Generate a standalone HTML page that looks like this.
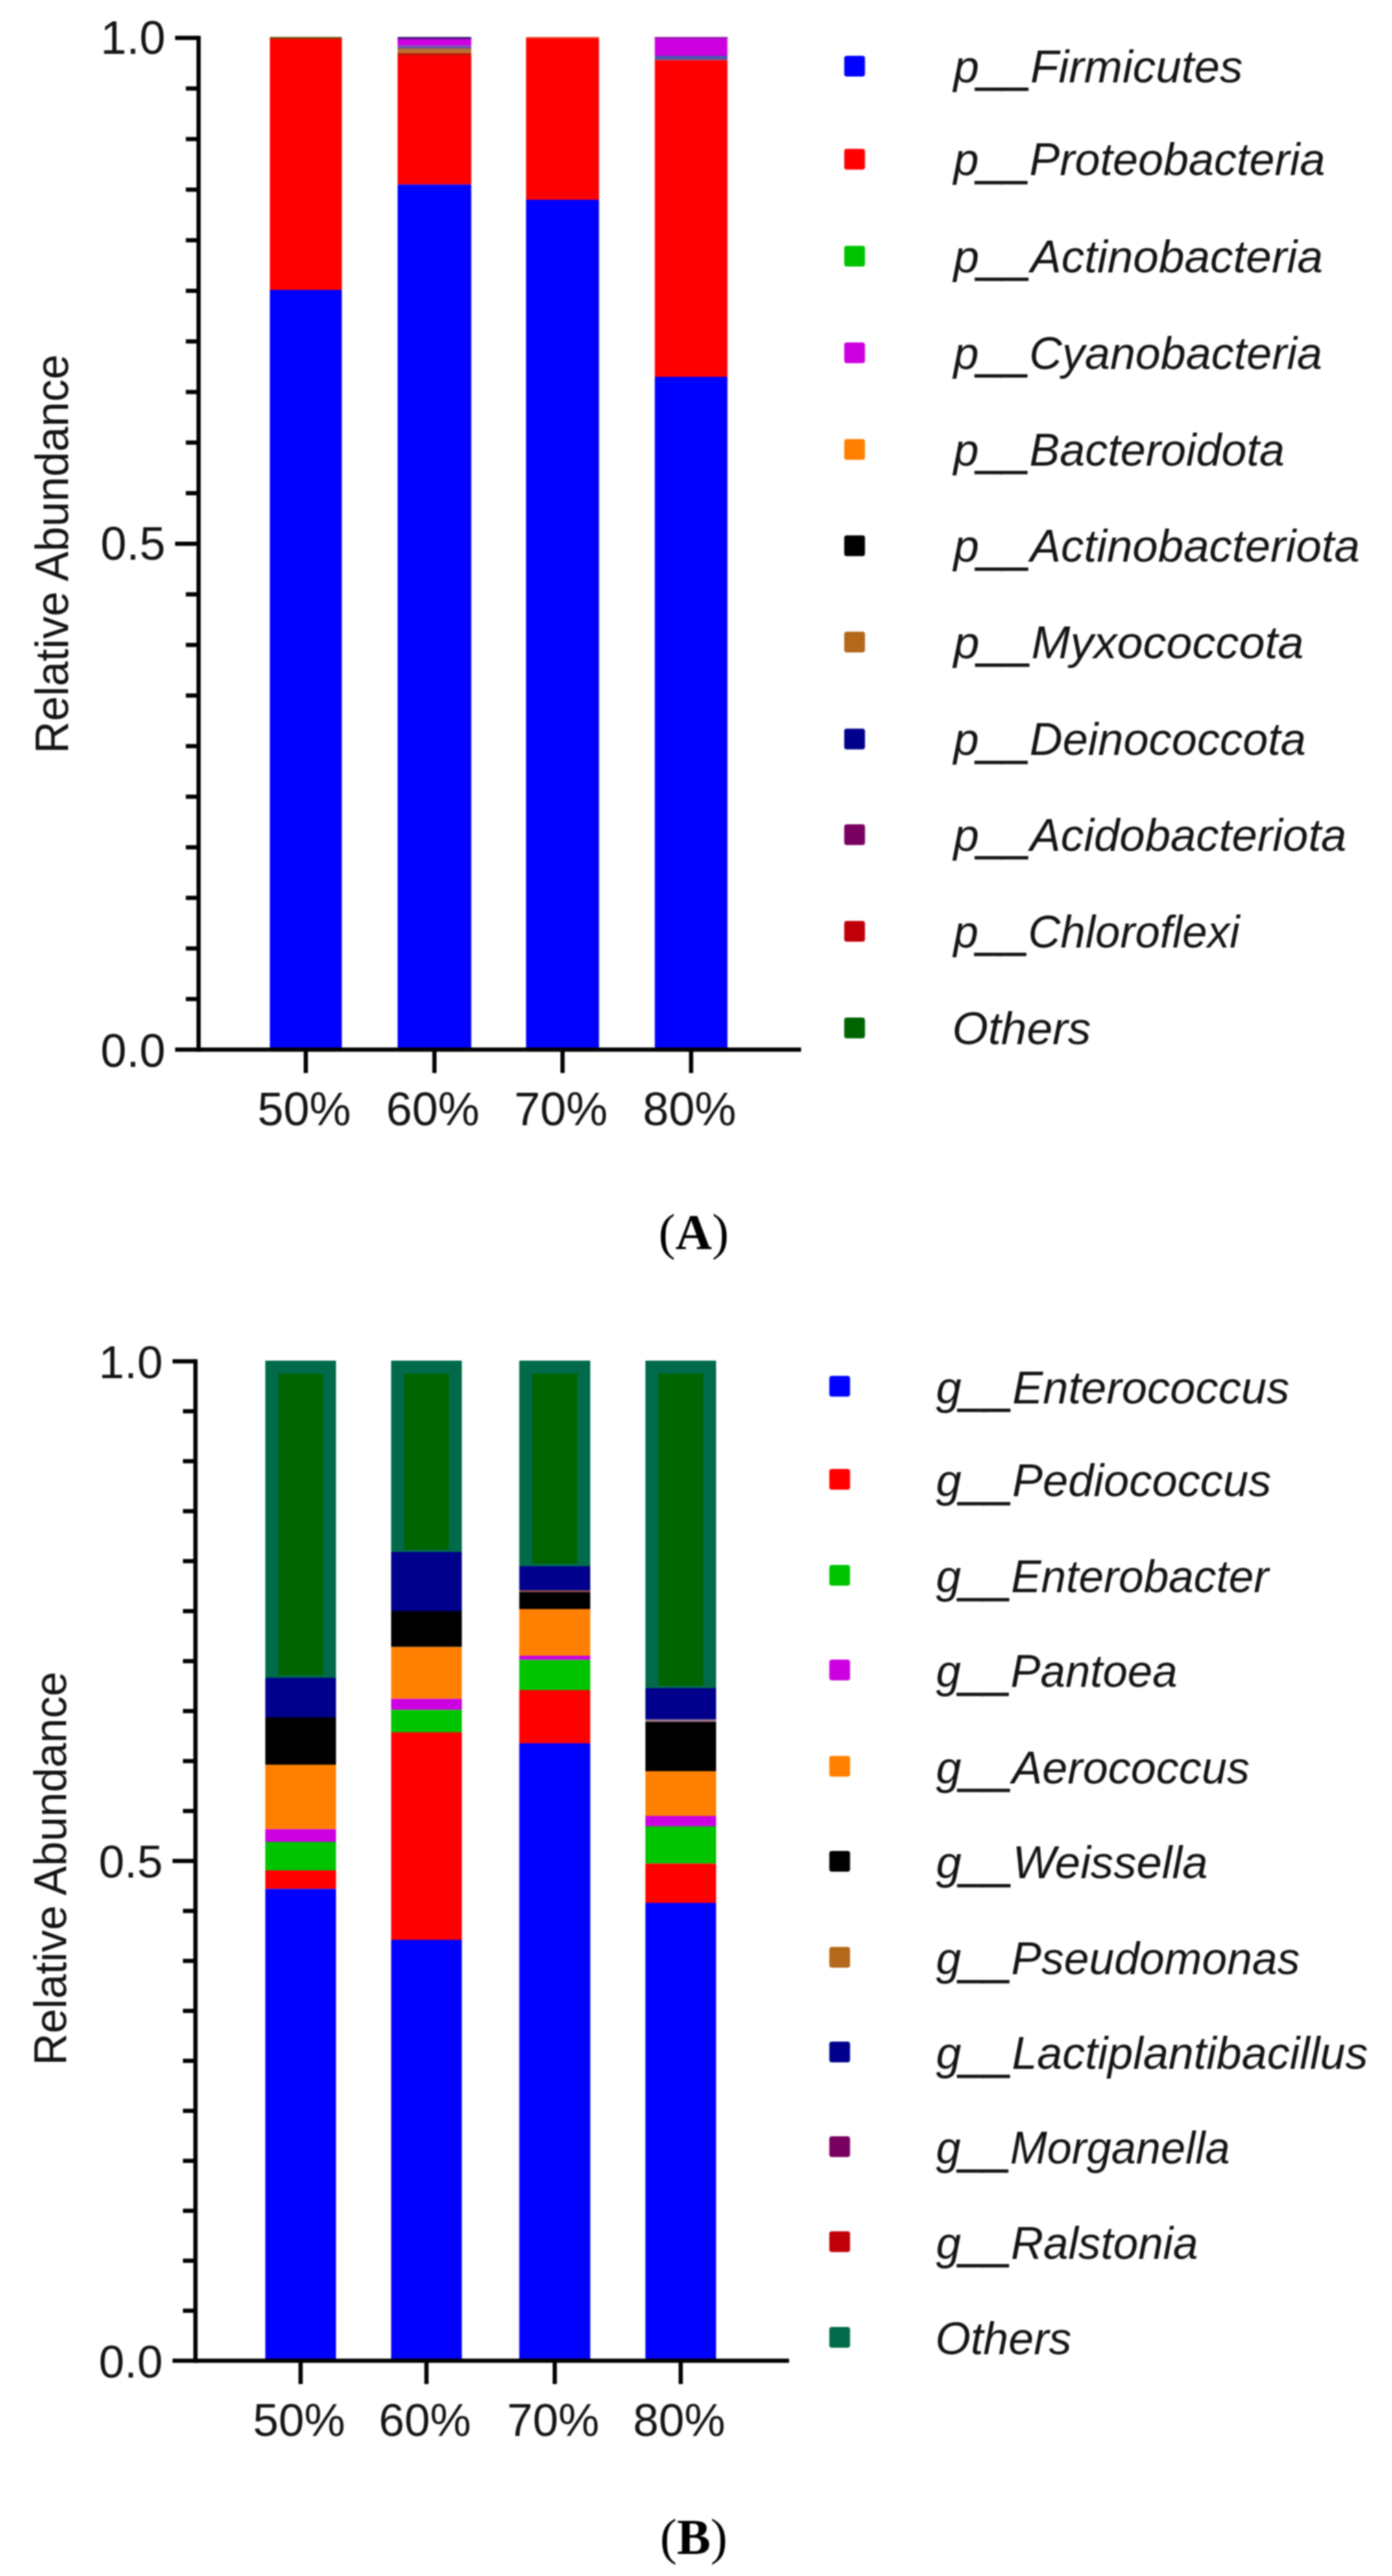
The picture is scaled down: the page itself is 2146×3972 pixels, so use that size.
<!DOCTYPE html>
<html lang="en"><head><meta charset="utf-8"><title>Relative abundance</title>
<style>html,body{margin:0;padding:0;background:#fff}body{width:2146px;height:3972px;overflow:hidden}svg{display:block;filter:blur(1px)}text{font-family:"Liberation Sans",Arial,Helvetica,sans-serif;fill:#141414}.lg{font-style:italic;font-size:70.5px}.tk{font-size:72px}.cap{font-family:"Liberation Serif","Times New Roman",serif;font-size:78px;fill:#000}</style></head><body>
<svg width="2146" height="3972" viewBox="0 0 2146 3972">
<rect width="2146" height="3972" fill="#fff"/>
<rect x="416.0" y="57.0" width="111.0" height="4.0" fill="#7A4A00"/>
<rect x="416.0" y="60.0" width="111.0" height="387.0" fill="#FF0000"/>
<rect x="416.0" y="447.0" width="111.0" height="1171.5" fill="#0000FF"/>
<rect x="613.0" y="57.0" width="113.5" height="4.0" fill="#3A1A7A"/>
<rect x="613.0" y="60.0" width="113.5" height="10.5" fill="#CC00E0"/>
<rect x="613.0" y="70.5" width="113.5" height="4.5" fill="#6A50A8"/>
<rect x="613.0" y="75.0" width="113.5" height="6.5" fill="#B8702C"/>
<rect x="613.0" y="81.5" width="113.5" height="4.5" fill="#C01800"/>
<rect x="613.0" y="86.0" width="113.5" height="198.5" fill="#FF0000"/>
<rect x="613.0" y="284.5" width="113.5" height="1334.0" fill="#0000FF"/>
<rect x="811.0" y="57.0" width="112.5" height="3.0" fill="#E05030"/>
<rect x="811.0" y="59.5" width="112.5" height="248.5" fill="#FF0000"/>
<rect x="811.0" y="308.0" width="112.5" height="1310.5" fill="#0000FF"/>
<rect x="1009.5" y="57.0" width="112.0" height="3.0" fill="#8A20A0"/>
<rect x="1009.5" y="59.5" width="112.0" height="26.5" fill="#CC00E0"/>
<rect x="1009.5" y="86.0" width="112.0" height="6.5" fill="#4A58B0"/>
<rect x="1009.5" y="92.5" width="112.0" height="488.5" fill="#FF0000"/>
<rect x="1009.5" y="581.0" width="112.0" height="1037.5" fill="#0000FF"/>
<g fill="#000">
<rect x="302.9" y="55.2" width="6.5" height="1566.5"/>
<rect x="270.0" y="1615.2" width="965.0" height="6.5"/>
<rect x="270.0" y="55.2" width="36.2" height="6.5"/>
<rect x="286.5" y="133.2" width="19.7" height="6.5"/>
<rect x="286.5" y="211.2" width="19.7" height="6.5"/>
<rect x="286.5" y="289.2" width="19.7" height="6.5"/>
<rect x="286.5" y="367.2" width="19.7" height="6.5"/>
<rect x="286.5" y="445.2" width="19.7" height="6.5"/>
<rect x="286.5" y="523.2" width="19.7" height="6.5"/>
<rect x="286.5" y="601.2" width="19.7" height="6.5"/>
<rect x="286.5" y="679.2" width="19.7" height="6.5"/>
<rect x="286.5" y="757.2" width="19.7" height="6.5"/>
<rect x="270.0" y="835.2" width="36.2" height="6.5"/>
<rect x="286.5" y="913.2" width="19.7" height="6.5"/>
<rect x="286.5" y="991.2" width="19.7" height="6.5"/>
<rect x="286.5" y="1069.2" width="19.7" height="6.5"/>
<rect x="286.5" y="1147.2" width="19.7" height="6.5"/>
<rect x="286.5" y="1225.2" width="19.7" height="6.5"/>
<rect x="286.5" y="1303.2" width="19.7" height="6.5"/>
<rect x="286.5" y="1381.2" width="19.7" height="6.5"/>
<rect x="286.5" y="1459.2" width="19.7" height="6.5"/>
<rect x="286.5" y="1537.2" width="19.7" height="6.5"/>
</g>
<rect x="468.2" y="1620.5" width="6.5" height="34" fill="#000"/>
<rect x="666.5" y="1620.5" width="6.5" height="34" fill="#000"/>
<rect x="864.0" y="1620.5" width="6.5" height="34" fill="#000"/>
<rect x="1062.2" y="1620.5" width="6.5" height="34" fill="#000"/>
<text class="tk" x="469.0" y="1735" text-anchor="middle">50%</text>
<text class="tk" x="667.2" y="1735" text-anchor="middle">60%</text>
<text class="tk" x="864.8" y="1735" text-anchor="middle">70%</text>
<text class="tk" x="1063.0" y="1735" text-anchor="middle">80%</text>
<text class="tk" x="255" y="82.5" text-anchor="end">1.0</text>
<text class="tk" x="255" y="863" text-anchor="end">0.5</text>
<text class="tk" x="255" y="1644.5" text-anchor="end">0.0</text>
<text class="tk" transform="translate(104.5,1162) rotate(-90)" textLength="615.5" lengthAdjust="spacingAndGlyphs">Relative Abundance</text>
<rect x="1301.5" y="86.0" width="32" height="32" rx="4" fill="#0000FF"/>
<text class="lg" x="1470.0" y="126.5" textLength="446.0" lengthAdjust="spacingAndGlyphs">p<tspan dy="3.5" stroke="#141414" stroke-width="2.6">__</tspan><tspan dy="-3.5">Firmicutes</tspan></text>
<rect x="1301.5" y="229.5" width="32" height="32" rx="4" fill="#FF0000"/>
<text class="lg" x="1470.0" y="270.0" textLength="573.0" lengthAdjust="spacingAndGlyphs">p<tspan dy="3.5" stroke="#141414" stroke-width="2.6">__</tspan><tspan dy="-3.5">Proteobacteria</tspan></text>
<rect x="1301.5" y="379.0" width="32" height="32" rx="4" fill="#00C400"/>
<text class="lg" x="1470.0" y="419.5" textLength="569.5" lengthAdjust="spacingAndGlyphs">p<tspan dy="3.5" stroke="#141414" stroke-width="2.6">__</tspan><tspan dy="-3.5">Actinobacteria</tspan></text>
<rect x="1301.5" y="528.0" width="32" height="32" rx="4" fill="#CC00E0"/>
<text class="lg" x="1470.0" y="568.5" textLength="568.5" lengthAdjust="spacingAndGlyphs">p<tspan dy="3.5" stroke="#141414" stroke-width="2.6">__</tspan><tspan dy="-3.5">Cyanobacteria</tspan></text>
<rect x="1301.5" y="677.0" width="32" height="32" rx="4" fill="#FF8000"/>
<text class="lg" x="1470.0" y="717.5" textLength="510.5" lengthAdjust="spacingAndGlyphs">p<tspan dy="3.5" stroke="#141414" stroke-width="2.6">__</tspan><tspan dy="-3.5">Bacteroidota</tspan></text>
<rect x="1301.5" y="825.5" width="32" height="32" rx="4" fill="#000000"/>
<text class="lg" x="1470.0" y="866.0" textLength="626.5" lengthAdjust="spacingAndGlyphs">p<tspan dy="3.5" stroke="#141414" stroke-width="2.6">__</tspan><tspan dy="-3.5">Actinobacteriota</tspan></text>
<rect x="1301.5" y="974.0" width="32" height="32" rx="4" fill="#B4681A"/>
<text class="lg" x="1470.0" y="1014.5" textLength="540.0" lengthAdjust="spacingAndGlyphs">p<tspan dy="3.5" stroke="#141414" stroke-width="2.6">__</tspan><tspan dy="-3.5">Myxococcota</tspan></text>
<rect x="1301.5" y="1123.5" width="32" height="32" rx="4" fill="#00008C"/>
<text class="lg" x="1470.0" y="1164.0" textLength="543.5" lengthAdjust="spacingAndGlyphs">p<tspan dy="3.5" stroke="#141414" stroke-width="2.6">__</tspan><tspan dy="-3.5">Deinococcota</tspan></text>
<rect x="1301.5" y="1271.0" width="32" height="32" rx="4" fill="#780060"/>
<text class="lg" x="1470.0" y="1311.5" textLength="606.0" lengthAdjust="spacingAndGlyphs">p<tspan dy="3.5" stroke="#141414" stroke-width="2.6">__</tspan><tspan dy="-3.5">Acidobacteriota</tspan></text>
<rect x="1301.5" y="1420.0" width="32" height="32" rx="4" fill="#C00008"/>
<text class="lg" x="1470.0" y="1460.5" textLength="441.0" lengthAdjust="spacingAndGlyphs">p<tspan dy="3.5" stroke="#141414" stroke-width="2.6">__</tspan><tspan dy="-3.5">Chloroflexi</tspan></text>
<rect x="1301.5" y="1569.0" width="32" height="32" rx="4" fill="#006400"/>
<text class="lg" x="1468.0" y="1609.5" textLength="214.0" lengthAdjust="spacingAndGlyphs">Others</text>
<text class="cap" x="1069.5" y="1925.5" text-anchor="middle">(<tspan font-weight="bold">A</tspan>)</text>
<rect x="409.0" y="2098.0" width="109.0" height="489.0" fill="#006A4A"/>
<rect x="429.0" y="2118.0" width="69.0" height="465.0" fill="#006400"/>
<rect x="409.0" y="2587.0" width="109.0" height="61.0" fill="#00008C"/>
<rect x="409.0" y="2648.0" width="109.0" height="73.0" fill="#000000"/>
<rect x="409.0" y="2721.0" width="109.0" height="99.5" fill="#FF8000"/>
<rect x="409.0" y="2820.5" width="109.0" height="19.5" fill="#CC00E0"/>
<rect x="409.0" y="2840.0" width="109.0" height="44.0" fill="#00C400"/>
<rect x="409.0" y="2884.0" width="109.0" height="28.5" fill="#FF0000"/>
<rect x="409.0" y="2912.5" width="109.0" height="727.5" fill="#0000FF"/>
<rect x="603.0" y="2098.0" width="109.0" height="295.0" fill="#006A4A"/>
<rect x="623.0" y="2118.0" width="69.0" height="271.0" fill="#006400"/>
<rect x="603.0" y="2393.0" width="109.0" height="91.0" fill="#00008C"/>
<rect x="603.0" y="2484.0" width="109.0" height="55.5" fill="#000000"/>
<rect x="603.0" y="2539.5" width="109.0" height="80.0" fill="#FF8000"/>
<rect x="603.0" y="2619.5" width="109.0" height="17.0" fill="#CC00E0"/>
<rect x="603.0" y="2636.5" width="109.0" height="34.5" fill="#00C400"/>
<rect x="603.0" y="2671.0" width="109.0" height="320.0" fill="#FF0000"/>
<rect x="603.0" y="2991.0" width="109.0" height="649.0" fill="#0000FF"/>
<rect x="800.5" y="2098.0" width="109.5" height="317.0" fill="#006A4A"/>
<rect x="820.5" y="2118.0" width="69.5" height="293.0" fill="#006400"/>
<rect x="800.5" y="2415.0" width="109.5" height="37.0" fill="#00008C"/>
<rect x="800.5" y="2452.0" width="109.5" height="3.0" fill="#905048"/>
<rect x="800.5" y="2455.0" width="109.5" height="26.0" fill="#000000"/>
<rect x="800.5" y="2481.0" width="109.5" height="72.0" fill="#FF8000"/>
<rect x="800.5" y="2553.0" width="109.5" height="6.5" fill="#CC00E0"/>
<rect x="800.5" y="2559.5" width="109.5" height="46.5" fill="#00C400"/>
<rect x="800.5" y="2606.0" width="109.5" height="82.0" fill="#FF0000"/>
<rect x="800.5" y="2688.0" width="109.5" height="952.0" fill="#0000FF"/>
<rect x="995.0" y="2098.0" width="109.0" height="505.0" fill="#006A4A"/>
<rect x="1015.0" y="2118.0" width="69.0" height="481.0" fill="#006400"/>
<rect x="995.0" y="2603.0" width="109.0" height="48.5" fill="#00008C"/>
<rect x="995.0" y="2651.5" width="109.0" height="4.5" fill="#A07888"/>
<rect x="995.0" y="2655.0" width="109.0" height="76.0" fill="#000000"/>
<rect x="995.0" y="2731.0" width="109.0" height="69.0" fill="#FF8000"/>
<rect x="995.0" y="2800.0" width="109.0" height="16.0" fill="#CC00E0"/>
<rect x="995.0" y="2816.0" width="109.0" height="57.5" fill="#00C400"/>
<rect x="995.0" y="2873.5" width="109.0" height="60.5" fill="#FF0000"/>
<rect x="995.0" y="2934.0" width="109.0" height="706.0" fill="#0000FF"/>
<g fill="#000">
<rect x="298.1" y="2095.8" width="6.5" height="1547.5"/>
<rect x="266.0" y="3636.8" width="950.5" height="6.5"/>
<rect x="266.0" y="2095.8" width="35.3" height="6.5"/>
<rect x="282.0" y="2172.8" width="19.3" height="6.5"/>
<rect x="282.0" y="2249.8" width="19.3" height="6.5"/>
<rect x="282.0" y="2326.9" width="19.3" height="6.5"/>
<rect x="282.0" y="2403.9" width="19.3" height="6.5"/>
<rect x="282.0" y="2481.0" width="19.3" height="6.5"/>
<rect x="282.0" y="2558.1" width="19.3" height="6.5"/>
<rect x="282.0" y="2635.1" width="19.3" height="6.5"/>
<rect x="282.0" y="2712.2" width="19.3" height="6.5"/>
<rect x="282.0" y="2789.2" width="19.3" height="6.5"/>
<rect x="266.0" y="2866.2" width="35.3" height="6.5"/>
<rect x="282.0" y="2943.3" width="19.3" height="6.5"/>
<rect x="282.0" y="3020.3" width="19.3" height="6.5"/>
<rect x="282.0" y="3097.4" width="19.3" height="6.5"/>
<rect x="282.0" y="3174.4" width="19.3" height="6.5"/>
<rect x="282.0" y="3251.5" width="19.3" height="6.5"/>
<rect x="282.0" y="3328.6" width="19.3" height="6.5"/>
<rect x="282.0" y="3405.6" width="19.3" height="6.5"/>
<rect x="282.0" y="3482.6" width="19.3" height="6.5"/>
<rect x="282.0" y="3559.7" width="19.3" height="6.5"/>
</g>
<rect x="460.2" y="3642.0" width="6.5" height="34" fill="#000"/>
<rect x="654.2" y="3642.0" width="6.5" height="34" fill="#000"/>
<rect x="852.0" y="3642.0" width="6.5" height="34" fill="#000"/>
<rect x="1046.2" y="3642.0" width="6.5" height="34" fill="#000"/>
<text class="tk" style="font-size:71px" x="461.0" y="3755.5" text-anchor="middle">50%</text>
<text class="tk" style="font-size:71px" x="655.0" y="3755.5" text-anchor="middle">60%</text>
<text class="tk" style="font-size:71px" x="852.8" y="3755.5" text-anchor="middle">70%</text>
<text class="tk" style="font-size:71px" x="1047.0" y="3755.5" text-anchor="middle">80%</text>
<text class="tk" style="font-size:71px" x="251" y="2125" text-anchor="end">1.0</text>
<text class="tk" style="font-size:71px" x="251" y="2895" text-anchor="end">0.5</text>
<text class="tk" style="font-size:71px" x="251" y="3666" text-anchor="end">0.0</text>
<text class="tk" style="font-size:71px" transform="translate(102,3184.5) rotate(-90)" textLength="607" lengthAdjust="spacingAndGlyphs">Relative Abundance</text>
<rect x="1278.5" y="2121.5" width="32" height="32" rx="4" fill="#0000FF"/>
<text class="lg" style="font-size:69.5px" x="1443.0" y="2163.5" textLength="545.0" lengthAdjust="spacingAndGlyphs">g<tspan dy="3.5" stroke="#141414" stroke-width="2.6">__</tspan><tspan dy="-3.5">Enterococcus</tspan></text>
<rect x="1278.5" y="2265.0" width="32" height="32" rx="4" fill="#FF0000"/>
<text class="lg" style="font-size:69.5px" x="1443.0" y="2307.0" textLength="517.0" lengthAdjust="spacingAndGlyphs">g<tspan dy="3.5" stroke="#141414" stroke-width="2.6">__</tspan><tspan dy="-3.5">Pediococcus</tspan></text>
<rect x="1278.5" y="2413.0" width="32" height="32" rx="4" fill="#00C400"/>
<text class="lg" style="font-size:69.5px" x="1443.0" y="2455.0" textLength="513.0" lengthAdjust="spacingAndGlyphs">g<tspan dy="3.5" stroke="#141414" stroke-width="2.6">__</tspan><tspan dy="-3.5">Enterobacter</tspan></text>
<rect x="1278.5" y="2559.0" width="32" height="32" rx="4" fill="#CC00E0"/>
<text class="lg" style="font-size:69.5px" x="1443.0" y="2601.0" textLength="372.0" lengthAdjust="spacingAndGlyphs">g<tspan dy="3.5" stroke="#141414" stroke-width="2.6">__</tspan><tspan dy="-3.5">Pantoea</tspan></text>
<rect x="1278.5" y="2707.5" width="32" height="32" rx="4" fill="#FF8000"/>
<text class="lg" style="font-size:69.5px" x="1443.0" y="2749.5" textLength="483.5" lengthAdjust="spacingAndGlyphs">g<tspan dy="3.5" stroke="#141414" stroke-width="2.6">__</tspan><tspan dy="-3.5">Aerococcus</tspan></text>
<rect x="1278.5" y="2854.0" width="32" height="32" rx="4" fill="#000000"/>
<text class="lg" style="font-size:69.5px" x="1443.0" y="2896.0" textLength="419.0" lengthAdjust="spacingAndGlyphs">g<tspan dy="3.5" stroke="#141414" stroke-width="2.6">__</tspan><tspan dy="-3.5">Weissella</tspan></text>
<rect x="1278.5" y="3002.0" width="32" height="32" rx="4" fill="#B4681A"/>
<text class="lg" style="font-size:69.5px" x="1443.0" y="3044.0" textLength="561.0" lengthAdjust="spacingAndGlyphs">g<tspan dy="3.5" stroke="#141414" stroke-width="2.6">__</tspan><tspan dy="-3.5">Pseudomonas</tspan></text>
<rect x="1278.5" y="3148.0" width="32" height="32" rx="4" fill="#00008C"/>
<text class="lg" style="font-size:69.5px" x="1443.0" y="3190.0" textLength="666.0" lengthAdjust="spacingAndGlyphs">g<tspan dy="3.5" stroke="#141414" stroke-width="2.6">__</tspan><tspan dy="-3.5">Lactiplantibacillus</tspan></text>
<rect x="1278.5" y="3294.0" width="32" height="32" rx="4" fill="#780060"/>
<text class="lg" style="font-size:69.5px" x="1443.0" y="3336.0" textLength="453.0" lengthAdjust="spacingAndGlyphs">g<tspan dy="3.5" stroke="#141414" stroke-width="2.6">__</tspan><tspan dy="-3.5">Morganella</tspan></text>
<rect x="1278.5" y="3440.5" width="32" height="32" rx="4" fill="#C00008"/>
<text class="lg" style="font-size:69.5px" x="1443.0" y="3482.5" textLength="404.0" lengthAdjust="spacingAndGlyphs">g<tspan dy="3.5" stroke="#141414" stroke-width="2.6">__</tspan><tspan dy="-3.5">Ralstonia</tspan></text>
<rect x="1278.5" y="3588.0" width="32" height="32" rx="4" fill="#006A4A"/>
<text class="lg" style="font-size:69.5px" x="1442.0" y="3630.0" textLength="210.0" lengthAdjust="spacingAndGlyphs">Others</text>
<text class="cap" x="1069.5" y="3938" text-anchor="middle">(<tspan font-weight="bold">B</tspan>)</text>
</svg></body></html>
